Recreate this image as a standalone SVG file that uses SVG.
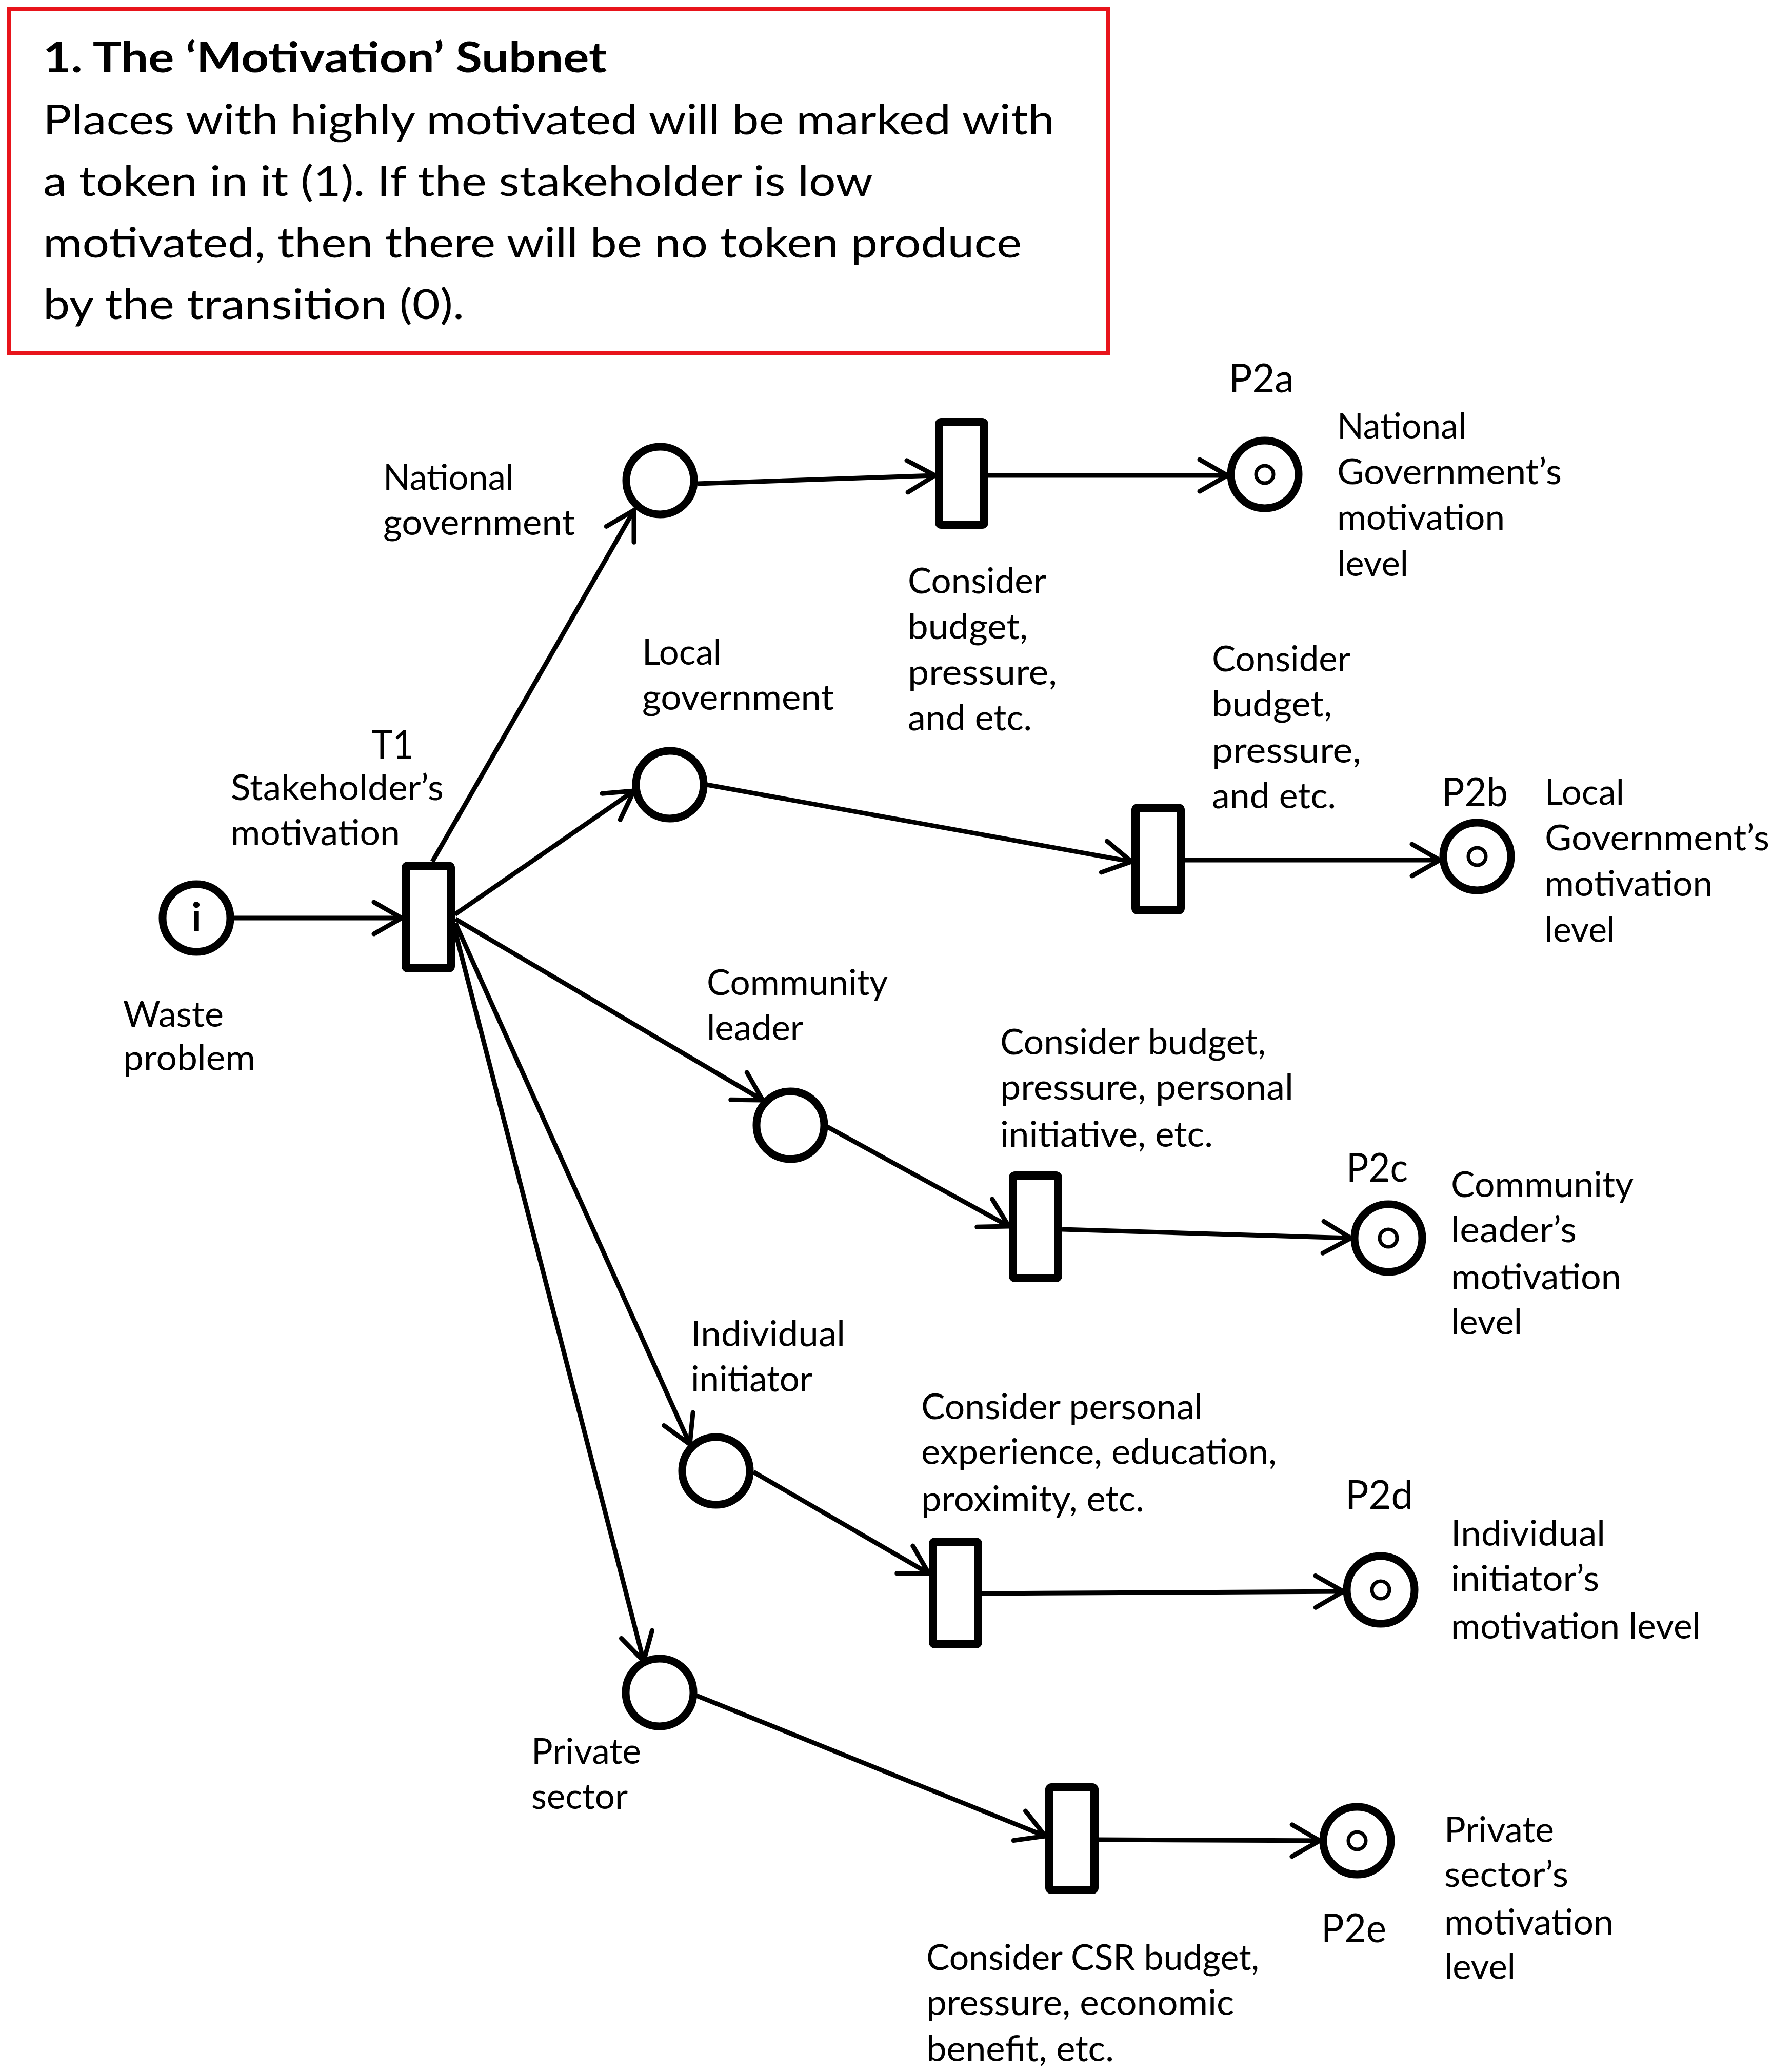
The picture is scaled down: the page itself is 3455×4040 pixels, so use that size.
<svg xmlns="http://www.w3.org/2000/svg" width="3455" height="4040" viewBox="0 0 3455 4040">
<style>
.bg{fill:#fff}
.box{fill:#fff;stroke:#e8141b;stroke-width:8}
.t{font-family:Lato,"Open Sans","DejaVu Sans",sans-serif;fill:#000}
.tb{font-size:82px}
.tbb{font-size:82px;font-weight:bold}
.lb{font-size:70px}
.pl{font-size:78px}
.place{fill:#fff;stroke:#000;stroke-width:15}
.tok{fill:none;stroke:#000;stroke-width:7}
.tr{fill:#fff;stroke:#000;stroke-width:16}
.arc{stroke:#000;stroke-width:9;fill:none;marker-end:url(#ah)}
</style>
<defs>
<marker id="ah" markerUnits="userSpaceOnUse" viewBox="-70 -45 80 90" markerWidth="80" markerHeight="90" refX="0" refY="0" orient="auto">
<path d="M-54,-31 L0,0 L-54,31" fill="none" stroke="#000" stroke-width="9" stroke-linecap="round" stroke-linejoin="round"/>
</marker>
</defs>
<rect class="bg" x="0" y="0" width="3455" height="4040"/>

<g id="note">
<rect class="box" x="18" y="18" width="2143" height="670"/>
<text class="t tbb" x="84" y="141" textLength="1099" lengthAdjust="spacingAndGlyphs">1. The ‘Motivation’ Subnet</text>
<text class="t tb" x="84" y="262" textLength="1972" lengthAdjust="spacingAndGlyphs">Places with highly motivated will be marked with</text>
<text class="t tb" x="84" y="382" textLength="1618" lengthAdjust="spacingAndGlyphs">a token in it (1). If the stakeholder is low</text>
<text class="t tb" x="84" y="502" textLength="1908" lengthAdjust="spacingAndGlyphs">motivated, then there will be no token produce</text>
<text class="t tb" x="84" y="622" textLength="821" lengthAdjust="spacingAndGlyphs">by the transition (0).</text>
</g>

<g id="connectors">
<line class="arc" x1="454" y1="1790" x2="783" y2="1790"/>
<line class="arc" x1="843" y1="1680" x2="1236" y2="995"/>
<line class="arc" x1="887" y1="1783" x2="1236" y2="1542"/>
<line class="arc" x1="888" y1="1792" x2="1487" y2="2145"/>
<line class="arc" x1="888" y1="1800" x2="1345" y2="2816"/>
<line class="arc" x1="886" y1="1810" x2="1255" y2="3239"/>
<line class="arc" x1="1360" y1="943" x2="1823" y2="927"/>
<line class="arc" x1="1927" y1="927" x2="2393" y2="927"/>
<line class="arc" x1="1378" y1="1530" x2="2206" y2="1680"/>
<line class="arc" x1="2310" y1="1677" x2="2807" y2="1677"/>
<line class="arc" x1="1613" y1="2197" x2="1967" y2="2391"/>
<line class="arc" x1="2071" y1="2397" x2="2634" y2="2414"/>
<line class="arc" x1="1469" y1="2870" x2="1811" y2="3068"/>
<line class="arc" x1="1915" y1="3107" x2="2619" y2="3103"/>
<line class="arc" x1="1358" y1="3306" x2="2038" y2="3580"/>
<line class="arc" x1="2142" y1="3587" x2="2573" y2="3589"/>
</g>

<g id="p-waste">
<circle class="place" cx="383" cy="1790" r="66"/>
<text class="t" x="383" y="1816" font-size="78" font-weight="bold" text-anchor="middle">i</text>
<text class="t lb" x="240" y="2002" textLength="196" lengthAdjust="spacingAndGlyphs">Waste</text>
<text class="t lb" x="240" y="2087" textLength="258" lengthAdjust="spacingAndGlyphs">problem</text>
</g>

<g id="t1">
<rect class="tr" x="791" y="1688" width="88" height="200" rx="4"/>
<text class="t pl" x="724" y="1479" textLength="83" lengthAdjust="spacingAndGlyphs">T1</text>
<text class="t lb" x="450" y="1560" textLength="415" lengthAdjust="spacingAndGlyphs">Stakeholder’s</text>
<text class="t lb" x="450" y="1648" textLength="330" lengthAdjust="spacingAndGlyphs">motivation</text>
</g>

<g id="p-national">
<circle class="place" cx="1287" cy="937" r="66"/>
<text class="t lb" x="747" y="955" textLength="255" lengthAdjust="spacingAndGlyphs">National</text>
<text class="t lb" x="747" y="1043" textLength="374" lengthAdjust="spacingAndGlyphs">government</text>
</g>
<g id="t2a">
<rect class="tr" x="1831" y="823" width="88" height="200" rx="4"/>
<text class="t lb" x="1770" y="1157" textLength="270" lengthAdjust="spacingAndGlyphs">Consider</text>
<text class="t lb" x="1770" y="1246" textLength="234" lengthAdjust="spacingAndGlyphs">budget,</text>
<text class="t lb" x="1770" y="1335" textLength="291" lengthAdjust="spacingAndGlyphs">pressure,</text>
<text class="t lb" x="1770" y="1424" textLength="242" lengthAdjust="spacingAndGlyphs">and etc.</text>
</g>
<g id="p2a">
<circle class="place" cx="2466" cy="925" r="66"/>
<circle class="tok" cx="2466" cy="925" r="17"/>
<text class="t pl" x="2396" y="765" textLength="127" lengthAdjust="spacingAndGlyphs">P2a</text>
<text class="t lb" x="2607" y="855" textLength="252" lengthAdjust="spacingAndGlyphs">National</text>
<text class="t lb" x="2607" y="944" textLength="438" lengthAdjust="spacingAndGlyphs">Government’s</text>
<text class="t lb" x="2607" y="1033" textLength="327" lengthAdjust="spacingAndGlyphs">motivation</text>
<text class="t lb" x="2607" y="1123" textLength="139" lengthAdjust="spacingAndGlyphs">level</text>
</g>

<g id="p-local">
<circle class="place" cx="1306" cy="1530" r="66"/>
<text class="t lb" x="1252" y="1296" textLength="155" lengthAdjust="spacingAndGlyphs">Local</text>
<text class="t lb" x="1252" y="1384" textLength="374" lengthAdjust="spacingAndGlyphs">government</text>
</g>
<g id="t2b">
<rect class="tr" x="2214" y="1575" width="88" height="200" rx="4"/>
<text class="t lb" x="2363" y="1309" textLength="270" lengthAdjust="spacingAndGlyphs">Consider</text>
<text class="t lb" x="2363" y="1397" textLength="234" lengthAdjust="spacingAndGlyphs">budget,</text>
<text class="t lb" x="2363" y="1487" textLength="291" lengthAdjust="spacingAndGlyphs">pressure,</text>
<text class="t lb" x="2363" y="1576" textLength="242" lengthAdjust="spacingAndGlyphs">and etc.</text>
</g>
<g id="p2b">
<circle class="place" cx="2880" cy="1670" r="66"/>
<circle class="tok" cx="2880" cy="1670" r="17"/>
<text class="t pl" x="2811" y="1572" textLength="129" lengthAdjust="spacingAndGlyphs">P2b</text>
<text class="t lb" x="3012" y="1569" textLength="155" lengthAdjust="spacingAndGlyphs">Local</text>
<text class="t lb" x="3012" y="1658" textLength="438" lengthAdjust="spacingAndGlyphs">Government’s</text>
<text class="t lb" x="3012" y="1747" textLength="327" lengthAdjust="spacingAndGlyphs">motivation</text>
<text class="t lb" x="3012" y="1837" textLength="137" lengthAdjust="spacingAndGlyphs">level</text>
</g>

<g id="p-community">
<circle class="place" cx="1541" cy="2194" r="66"/>
<text class="t lb" x="1378" y="1940" textLength="353" lengthAdjust="spacingAndGlyphs">Community</text>
<text class="t lb" x="1378" y="2028" textLength="188" lengthAdjust="spacingAndGlyphs">leader</text>
</g>
<g id="t2c">
<rect class="tr" x="1975" y="2292" width="88" height="200" rx="4"/>
<text class="t lb" x="1950" y="2056" textLength="518" lengthAdjust="spacingAndGlyphs">Consider budget,</text>
<text class="t lb" x="1950" y="2144" textLength="572" lengthAdjust="spacingAndGlyphs">pressure, personal</text>
<text class="t lb" x="1950" y="2236" textLength="415" lengthAdjust="spacingAndGlyphs">initiative, etc.</text>
</g>
<g id="p2c">
<circle class="place" cx="2707" cy="2414" r="66"/>
<circle class="tok" cx="2707" cy="2414" r="17"/>
<text class="t pl" x="2625" y="2304" textLength="120" lengthAdjust="spacingAndGlyphs">P2c</text>
<text class="t lb" x="2829" y="2334" textLength="356" lengthAdjust="spacingAndGlyphs">Community</text>
<text class="t lb" x="2829" y="2422" textLength="245" lengthAdjust="spacingAndGlyphs">leader’s</text>
<text class="t lb" x="2829" y="2514" textLength="332" lengthAdjust="spacingAndGlyphs">motivation</text>
<text class="t lb" x="2829" y="2602" textLength="139" lengthAdjust="spacingAndGlyphs">level</text>
</g>

<g id="p-individual">
<circle class="place" cx="1396" cy="2868" r="66"/>
<text class="t lb" x="1347" y="2625" textLength="301" lengthAdjust="spacingAndGlyphs">Individual</text>
<text class="t lb" x="1347" y="2713" textLength="237" lengthAdjust="spacingAndGlyphs">initiator</text>
</g>
<g id="t2d">
<rect class="tr" x="1819" y="3006" width="88" height="200" rx="4"/>
<text class="t lb" x="1796" y="2767" textLength="549" lengthAdjust="spacingAndGlyphs">Consider personal</text>
<text class="t lb" x="1796" y="2855" textLength="693" lengthAdjust="spacingAndGlyphs">experience, education,</text>
<text class="t lb" x="1796" y="2947" textLength="435" lengthAdjust="spacingAndGlyphs">proximity, etc.</text>
</g>
<g id="p2d">
<circle class="place" cx="2692" cy="3100" r="66"/>
<circle class="tok" cx="2692" cy="3100" r="17"/>
<text class="t pl" x="2623" y="2942" textLength="132" lengthAdjust="spacingAndGlyphs">P2d</text>
<text class="t lb" x="2829" y="3014" textLength="301" lengthAdjust="spacingAndGlyphs">Individual</text>
<text class="t lb" x="2829" y="3102" textLength="289" lengthAdjust="spacingAndGlyphs">initiator’s</text>
<text class="t lb" x="2829" y="3195" textLength="487" lengthAdjust="spacingAndGlyphs">motivation level</text>
</g>

<g id="p-private">
<circle class="place" cx="1286" cy="3300" r="66"/>
<text class="t lb" x="1036" y="3439" textLength="214" lengthAdjust="spacingAndGlyphs">Private</text>
<text class="t lb" x="1036" y="3527" textLength="188" lengthAdjust="spacingAndGlyphs">sector</text>
</g>
<g id="t2e">
<rect class="tr" x="2046" y="3485" width="88" height="200" rx="4"/>
<text class="t lb" x="1806" y="3841" textLength="649" lengthAdjust="spacingAndGlyphs">Consider CSR budget,</text>
<text class="t lb" x="1806" y="3929" textLength="600" lengthAdjust="spacingAndGlyphs">pressure, economic</text>
<text class="t lb" x="1806" y="4019" textLength="366" lengthAdjust="spacingAndGlyphs">benefit, etc.</text>
</g>
<g id="p2e">
<circle class="place" cx="2646" cy="3589" r="66"/>
<circle class="tok" cx="2646" cy="3589" r="17"/>
<text class="t pl" x="2576" y="3787" textLength="127" lengthAdjust="spacingAndGlyphs">P2e</text>
<text class="t lb" x="2816" y="3592" textLength="214" lengthAdjust="spacingAndGlyphs">Private</text>
<text class="t lb" x="2816" y="3679" textLength="242" lengthAdjust="spacingAndGlyphs">sector’s</text>
<text class="t lb" x="2816" y="3772" textLength="330" lengthAdjust="spacingAndGlyphs">motivation</text>
<text class="t lb" x="2816" y="3859" textLength="139" lengthAdjust="spacingAndGlyphs">level</text>
</g>
</svg>
